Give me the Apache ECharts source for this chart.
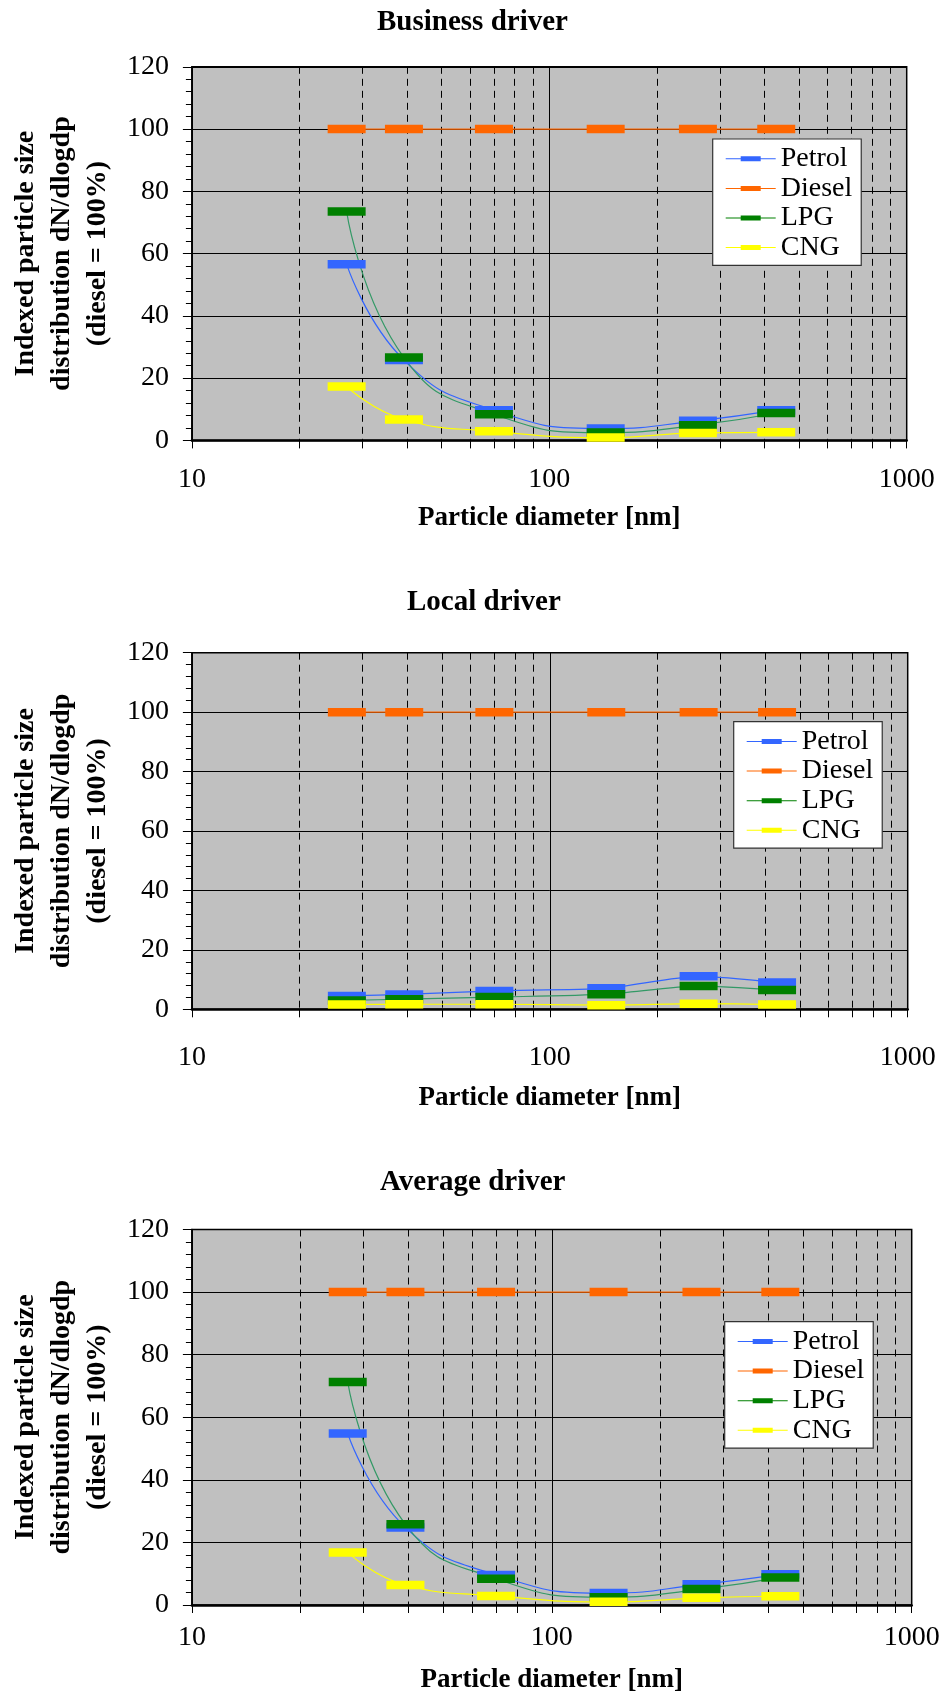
<!DOCTYPE html>
<html><head><meta charset="utf-8">
<script src="https://cdn.jsdelivr.net/npm/echarts@6/dist/echarts.min.js"></script>
<style>html,body{margin:0;padding:0;background:#fff}#c{width:949px;height:1695px}</style>
</head><body><div id="c"></div>
<script>
// ---- data ----
const diameters = [27.1, 39.2, 70.0, 143.8, 260.5, 431.5];
const seriesNames = ['Petrol', 'Diesel', 'LPG', 'CNG'];
const chartTitles = ['Business driver', 'Local driver', 'Average driver'];
const xMajorTicks = [10, 100, 1000];
const xMinorTicks = [20, 30, 40, 50, 60, 70, 80, 90, 200, 300, 400, 500, 600, 700, 800, 900];
const yMin = 0, yMax = 120, yStep = 20;

const businessPetrol = [56.6, 25.8, 9.7, 3.8, 6.3, 9.7];
const businessDiesel = [100, 100, 100, 100, 100, 100];
const businessLPG    = [73.5, 26.6, 8.4, 2.5, 4.9, 8.8];
const businessCNG    = [17.3, 6.7, 2.9, 0.9, 2.4, 2.6];

const localPetrol = [4.5, 5.0, 6.2, 7.1, 11.1, 9.0];
const localDiesel = [100, 100, 100, 100, 100, 100];
const localLPG    = [3.0, 3.4, 4.1, 5.1, 7.8, 6.5];
const localCNG    = [1.6, 1.7, 1.7, 1.4, 1.9, 1.6];

const averagePetrol = [54.8, 24.8, 9.6, 3.8, 6.6, 9.8];
const averageDiesel = [100, 100, 100, 100, 100, 100];
const averageLPG    = [71.3, 25.8, 8.4, 2.5, 5.1, 8.8];
const averageCNG    = [16.8, 6.4, 2.9, 1.0, 2.3, 2.8];

const chartData = [
  [businessPetrol, businessDiesel, businessLPG, businessCNG],
  [localPetrol, localDiesel, localLPG, localCNG],
  [averagePetrol, averageDiesel, averageLPG, averageCNG]
];

// ---- styling / layout ----
const FONT = '"Liberation Serif", "Times New Roman", serif';
const markerColors = ['#3366FF', '#FF6600', '#008000', '#FFFF00'];
const lineColors   = ['#3366FF', '#FF6600', '#339966', '#FFFF00'];
const grids = [
  {left: 182.7, top: 66.8,   width: 724, height: 373.6},
  {left: 180.7, top: 652.7,  width: 727, height: 356.6},
  {left: 175.7, top: 1229.5, width: 736, height: 376.5}
];
const titlePos = [{left: 377, top: 8}, {left: 407, top: 588}, {left: 380, top: 1168}];
const legendPos = [{left: 712.7, top: 139}, {left: 733.7, top: 721.7}, {left: 724.7, top: 1321.7}];
const xLabelMargin = [25, 34, 19];
const xNameGap = [64, 75, 62];
const smoothing = [0.5, 0.25, 0.5];

const legendIcon = 'path://M0,2 L50,2 L50,3 L0,3 Z M15,0 L35,0 L35,5 L15,5 Z';

const option = {
  animation: false,
  backgroundColor: '#ffffff',
  title: chartTitles.map((t, i) => ({
    text: t, left: titlePos[i].left, top: titlePos[i].top, padding: 0,
    textStyle: {fontFamily: FONT, fontWeight: 'bold', fontSize: 29, color: '#000'}
  })),
  legend: legendPos.map((p, i) => ({
    orient: 'vertical', left: p.left, top: p.top,
    data: seriesNames.map(n => ({name: n, icon: legendIcon})),
    itemWidth: 50, itemHeight: 5, itemGap: 0, itemTextGap: 7,
    padding: [5, 9, 3, 13],
    backgroundColor: '#ffffff', borderColor: '#333', borderWidth: 1.2,
    selectedMode: false,
    textStyle: {fontFamily: FONT, fontSize: 28, color: '#000', lineHeight: 29.6}
  })),
  grid: grids.map(g => ({
    left: g.left, top: g.top, width: g.width, height: g.height,
    show: true, backgroundColor: '#C0C0C0', borderColor: '#000', borderWidth: 1.5
  })),
  xAxis: [],
  yAxis: [],
  series: []
};

grids.forEach((g, k) => {
  // main log axis with labels
  option.xAxis.push({
    type: 'log', logBase: 10, min: 10, max: 1000, gridIndex: k, position: 'bottom',
    name: 'Particle diameter [nm]', nameLocation: 'middle', nameGap: xNameGap[k],
    nameTextStyle: {fontFamily: FONT, fontWeight: 'bold', fontSize: 27, color: '#000'},
    axisLine: {show: true, onZero: false, lineStyle: {color: '#000', width: 2.5}},
    axisTick: {show: true, length: 8, lineStyle: {color: '#000', width: 1}},
    axisLabel: {fontFamily: FONT, fontSize: 28, color: '#000', margin: xLabelMargin[k],
      customValues: xMajorTicks, formatter: v => String(Math.round(v))},
    splitLine: {show: true, lineStyle: {color: '#000', width: 1, type: 'solid'}},
    minorTick: {show: false}
  });
  // minor log axis (dashed grid + ticks)
  option.xAxis.push({
    type: 'log', logBase: 10, min: 10, max: 1000, gridIndex: k, position: 'bottom',
    axisLine: {show: false},
    axisTick: {show: true, length: 8, customValues: xMinorTicks, lineStyle: {color: '#000', width: 1}},
    axisLabel: {show: false, customValues: xMinorTicks},
    splitLine: {show: true, lineStyle: {color: '#000', width: 1, type: [7, 5]}}
  });
  option.yAxis.push({
    type: 'value', min: yMin, max: yMax, interval: yStep, gridIndex: k,
    name: 'Indexed particle size\ndistribution dN/dlogdp\n(diesel = 100%)',
    nameLocation: 'middle', nameRotate: 90, nameGap: 64,
    nameTextStyle: {fontFamily: FONT, fontWeight: 'bold', fontSize: 28, lineHeight: 36, color: '#000'},
    axisLine: {show: true, lineStyle: {color: '#000', width: 1.5}},
    axisTick: {show: true, length: 9, lineStyle: {color: '#000', width: 1}},
    minorTick: {show: true, splitNumber: 5, length: 6, lineStyle: {color: '#000', width: 1}},
    axisLabel: {fontFamily: FONT, fontSize: 28, color: '#000', margin: 23},
    splitLine: {show: true, lineStyle: {color: '#000', width: 1}}
  });
  chartData[k].forEach((vals, s) => {
    option.series.push({
      name: seriesNames[s], type: 'line',
      xAxisIndex: 2 * k, yAxisIndex: k,
      data: diameters.map((d, i) => [d, vals[i]]),
      smooth: smoothing[k],
      symbol: 'rect', symbolSize: [38, 8.5],
      itemStyle: {color: markerColors[s]},
      lineStyle: {color: lineColors[s], width: 1.2},
      emphasis: {disabled: true}
    });
  });
});

const chart = echarts.init(document.getElementById('c'), null, {renderer: 'canvas'});
chart.setOption(option);
</script>
</body></html>
